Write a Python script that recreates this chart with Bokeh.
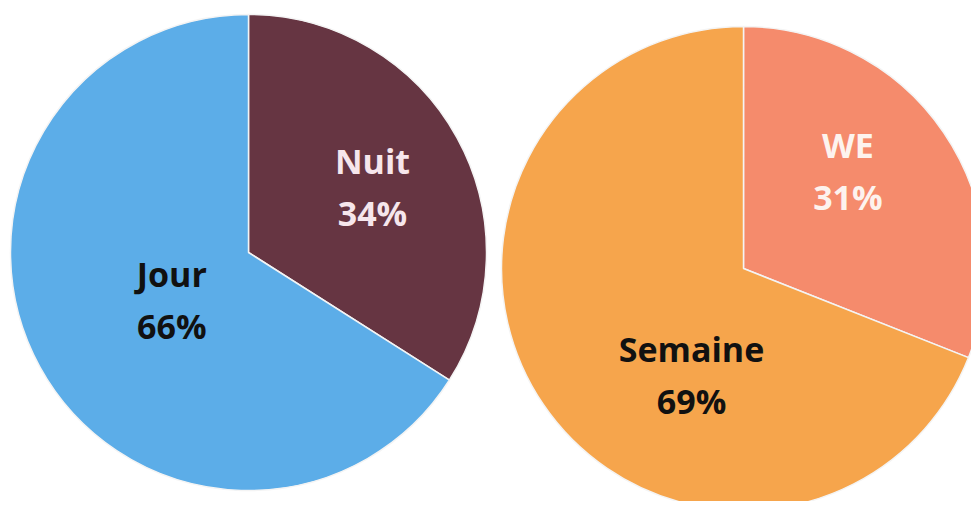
import numpy as np
from bokeh.plotting import figure
from bokeh.models import Range1d, ColumnDataSource
from bokeh.core.properties import value
from bokeh.embed import file_html
from bokeh.resources import INLINE

# Data
left_labels = ["Nuit", "Jour"]
left_values = [34, 66]
right_labels = ["WE", "Semaine"]
right_values = [31, 69]

left_colors = ["#663542", "#5cade8"]
right_colors = ["#f58b6c", "#f6a54c"]
left_text_colors = ["#f6e6ec", "#111111"]
right_text_colors = ["#fdf3ee", "#111111"]

W, H = 971, 501
p = figure(width=W, height=H, output_backend="svg", toolbar_location=None,
           x_range=Range1d(0, W), y_range=Range1d(509 - H, 509),
           match_aspect=False, min_border=0)
p.axis.visible = False
p.grid.visible = False
p.outline_line_color = None
p.background_fill_color = "white"
p.border_fill_color = "white"

def draw_pie(cx, cy, R, labels, vals, colors, tcolors, label_pos):
    vals = np.array(vals, dtype=float)
    frac = vals / vals.sum()
    ends = np.pi / 2 - 2 * np.pi * np.concatenate([[0], np.cumsum(frac)[:-1]])
    starts = ends - 2 * np.pi * frac
    src = ColumnDataSource(dict(x=[cx] * len(vals), y=[cy] * len(vals),
                                start=list(starts), end=list(ends), color=colors))
    p.wedge(x="x", y="y", radius=R, start_angle="start", end_angle="end",
            fill_color="color", line_color="#f4f4f4", line_width=1.5, source=src)
    for lab, v, tc, (ang, rf) in zip(labels, vals, tcolors, label_pos):
        a = np.deg2rad(ang)
        lx = cx + rf * R * np.cos(a)
        ly = cy + rf * R * np.sin(a)
        for txt, dy in ((lab, 26), (f"{int(v)}%", -26)):
            p.text(x=[lx], y=[ly + dy], text=[txt], text_color=tc,
                   text_font=value("Open Sans"), text_font_style="bold",
                   text_font_size="34px", text_align="center",
                   text_baseline="middle")

# left pie: center (248,252), R 238
draw_pie(248, 509 - 252, 238, left_labels, left_values, left_colors,
         left_text_colors, [(28, 0.59), (212, 0.38)])
# right pie: center (743,268), R 242
draw_pie(743, 509 - 268, 242, right_labels, right_values, right_colors,
         right_text_colors, [(43, 0.59), (244, 0.49)])

open("out.html", "w").write(file_html(p, INLINE))
